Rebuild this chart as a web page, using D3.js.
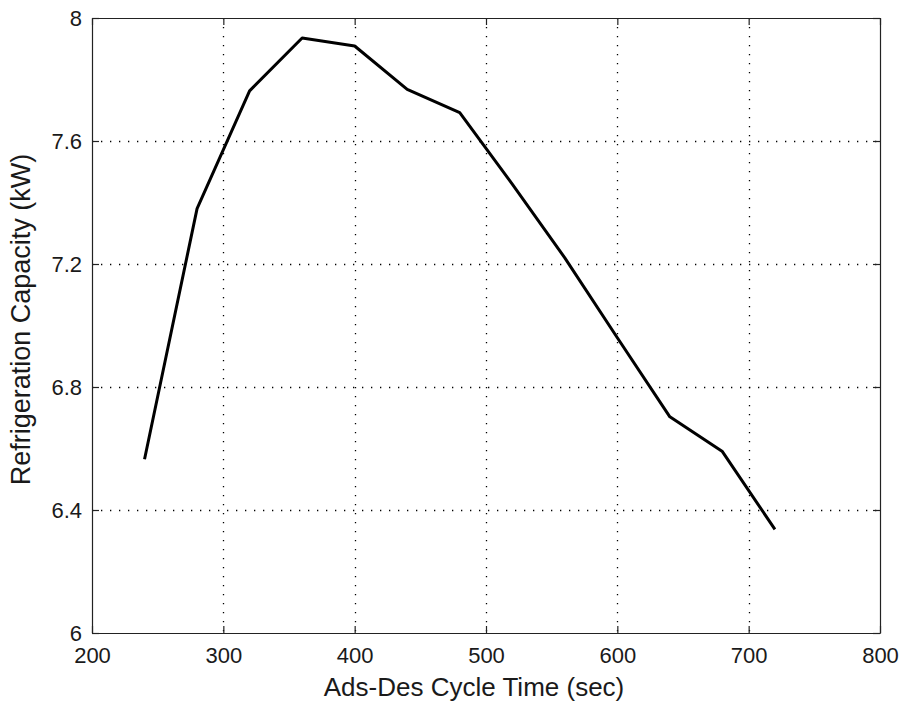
<!DOCTYPE html>
<html>
<head>
<meta charset="utf-8">
<script src="https://cdn.jsdelivr.net/npm/d3@7"></script>
<style>
  body { margin: 0; background: #fff; }
  text { font-family: "Liberation Sans", Arial, sans-serif; fill: #1a1a1a; }
</style>
</head>
<body>
<div id="chart"></div>
<script>
// cycle time (sec) and refrigeration capacity (kW)
var cycleTimes = [240, 280, 320, 360, 400, 440, 480, 520, 560, 600, 640, 680, 720];
var capacity = [6.565, 7.38, 7.763, 7.935, 7.909, 7.768, 7.692, 7.46, 7.22, 6.96, 6.703, 6.59, 6.337];
var xTicks = [200, 300, 400, 500, 600, 700, 800];
var yTicks = [6, 6.4, 6.8, 7.2, 7.6, 8];

var W = 904, H = 709;
var margin = {top: 18, right: 24, bottom: 76, left: 92};
var width = W - margin.left - margin.right;
var height = H - margin.top - margin.bottom;

var svg = d3.select("#chart").append("svg")
    .attr("width", W)
    .attr("height", H)
    .append("g")
    .attr("transform", "translate(" + margin.left + "," + margin.top + ")");

var x = d3.scaleLinear().domain([200, 800]).range([0, width]);
var y = d3.scaleLinear().domain([6, 8]).range([height, 0]);

// dotted grid
svg.append("g")
    .selectAll("line")
    .data(xTicks.slice(1, -1))
    .enter().append("line")
    .attr("x1", function(d) { return Math.round(x(d)) + 0.5; })
    .attr("x2", function(d) { return Math.round(x(d)) + 0.5; })
    .attr("y1", 0)
    .attr("y2", height)
    .style("stroke", "#000")
    .style("stroke-width", 1.3)
    .style("stroke-dasharray", "1.3,7.7");

svg.append("g")
    .selectAll("line")
    .data(yTicks.slice(1, -1))
    .enter().append("line")
    .attr("x1", 0)
    .attr("x2", width)
    .attr("y1", function(d) { return Math.round(y(d)) + 0.5; })
    .attr("y2", function(d) { return Math.round(y(d)) + 0.5; })
    .style("stroke", "#000")
    .style("stroke-width", 1.3)
    .style("stroke-dasharray", "1.3,7.7");

// axes, ticks inward on all four sides
var tickLen = 7;
var xBottom = svg.append("g")
    .attr("transform", "translate(0," + height + ")")
    .call(d3.axisBottom(x).tickValues(xTicks).tickSizeInner(-tickLen).tickSizeOuter(0).tickPadding(14).tickFormat(d3.format("d")));
var xTop = svg.append("g")
    .call(d3.axisTop(x).tickValues(xTicks).tickSizeInner(-tickLen).tickSizeOuter(0).tickFormat(""));
var yLeft = svg.append("g")
    .call(d3.axisLeft(y).tickValues(yTicks).tickSizeInner(-tickLen).tickSizeOuter(0).tickPadding(10).tickFormat(function(d) { return d % 1 === 0 ? d3.format("d")(d) : d3.format(".1f")(d); }));
var yRight = svg.append("g")
    .attr("transform", "translate(" + width + ",0)")
    .call(d3.axisRight(y).tickValues(yTicks).tickSizeInner(-tickLen).tickSizeOuter(0).tickFormat(""));

[xBottom, xTop, yLeft, yRight].forEach(function(g) {
    g.selectAll("path").style("stroke", "#222").style("stroke-width", 1.2);
    g.selectAll("line").style("stroke", "#222").style("stroke-width", 1.2);
    g.selectAll("text")
        .style("font-size", "22px")
        .style("font-family", "'Liberation Sans', Arial, sans-serif")
        .style("fill", "#1a1a1a");
});

// data line
var line = d3.line()
    .x(function(d) { return x(d[0]); })
    .y(function(d) { return y(d[1]); });

svg.append("path")
    .datum(d3.zip(cycleTimes, capacity))
    .attr("d", line)
    .style("fill", "none")
    .style("stroke", "#000")
    .style("stroke-width", 3)
    .style("stroke-linejoin", "round");

// axis labels
svg.append("text")
    .attr("x", width / 2 - 12)
    .attr("y", height + 63)
    .style("text-anchor", "middle")
    .style("font-size", "26px")
    .text("Ads-Des Cycle Time (sec)");

svg.append("text")
    .attr("transform", "translate(" + (-62) + "," + (height / 2 - 6) + ") rotate(-90)")
    .style("text-anchor", "middle")
    .style("font-size", "27px")
    .text("Refrigeration Capacity (kW)");
</script>
</body>
</html>
